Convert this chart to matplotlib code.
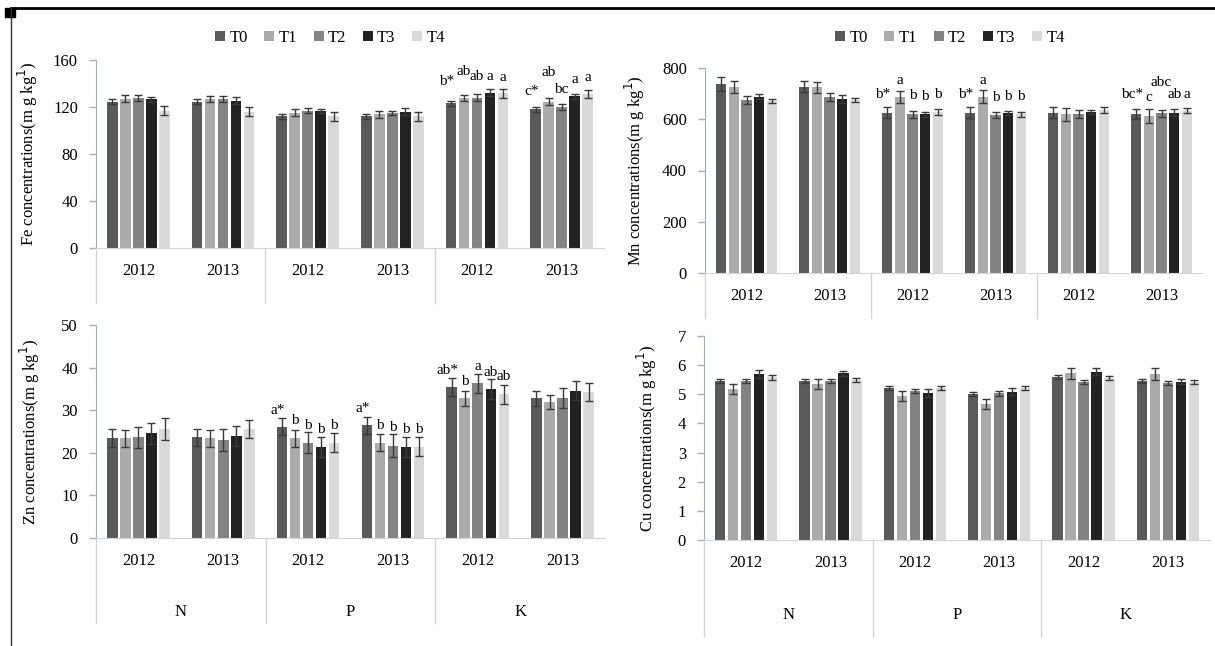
import numpy as np
import matplotlib.pyplot as plt
from matplotlib.lines import Line2D

plt.rcParams['font.family'] = ['Liberation Serif', 'DejaVu Serif']

treatments = ['T0', 'T1', 'T2', 'T3', 'T4']
years = ['2012', '2013', '2012', '2013', '2012', '2013']
elements = ['N', 'P', 'K']
colors = ['#5a5a5a', '#ababab', '#838383', '#222222', '#d9d9d9']

# mean values, one list per treatment, groups = N2012, N2013, P2012, P2013, K2012, K2013
fe_mean = [[124.5, 124.5, 112, 112, 123, 118],
           [127, 126.5, 115, 114, 128, 124.5],
           [128, 126.5, 117, 115, 128, 120],
           [126.5, 125.5, 116.5, 116, 132, 129],
           [117, 116, 112, 112, 131.5, 131]]
fe_err = [[2, 2, 2, 2, 2, 2],
          [3, 2.5, 3, 3, 2.5, 3],
          [2.5, 2.5, 2, 2, 3, 2.5],
          [2, 3, 2, 3, 3, 2],
          [3.5, 4, 4, 3.5, 4, 3.5]]

mn_mean = [[737, 727, 626, 626, 626, 620],
           [727, 725, 688, 688, 619, 613],
           [675, 688, 619, 617, 619, 623],
           [688, 678, 619, 626, 629, 626],
           [671, 675, 629, 619, 636, 633]]
mn_err = [[26, 21, 22, 22, 22, 20],
          [23, 21, 23, 26, 26, 26],
          [14, 16, 14, 13, 16, 13],
          [10, 16, 11, 8, 9, 13],
          [9, 9, 11, 10, 10, 10]]

zn_mean = [[23.4, 23.6, 26.1, 26.5, 35.4, 32.8],
           [23.4, 23.4, 23.4, 22.4, 32.8, 31.9],
           [23.6, 23.0, 22.4, 21.7, 36.3, 32.8],
           [24.6, 23.9, 21.4, 21.4, 35.0, 34.6],
           [25.6, 25.6, 22.4, 21.4, 33.7, 34.3]]
zn_err = [[2.1, 2.1, 2.0, 2.0, 2.1, 1.7],
          [2.0, 2.0, 2.0, 2.0, 1.8, 1.7],
          [2.5, 2.5, 2.5, 2.6, 2.3, 2.3],
          [2.5, 2.3, 2.3, 2.3, 2.3, 2.3],
          [2.5, 2.2, 2.2, 2.2, 2.3, 2.2]]

cu_mean = [[5.46, 5.46, 5.20, 5.01, 5.60, 5.46],
           [5.17, 5.34, 4.94, 4.67, 5.72, 5.69],
           [5.46, 5.46, 5.12, 5.03, 5.43, 5.38],
           [5.69, 5.72, 5.03, 5.09, 5.78, 5.43],
           [5.58, 5.49, 5.23, 5.23, 5.55, 5.41]]
cu_err = [[0.07, 0.07, 0.07, 0.07, 0.07, 0.07],
          [0.17, 0.17, 0.18, 0.17, 0.18, 0.20],
          [0.07, 0.08, 0.07, 0.08, 0.06, 0.07],
          [0.14, 0.09, 0.14, 0.11, 0.11, 0.08],
          [0.09, 0.07, 0.07, 0.07, 0.07, 0.07]]

# significance letters: (group, treatment, text, y)
fe_letters = [(4, 0, 'b*', 141.5), (4, 1, 'ab', 150), (4, 2, 'ab', 146), (4, 3, 'a', 146), (4, 4, 'a', 145),
              (5, 0, 'c*', 133), (5, 1, 'ab', 149), (5, 2, 'bc', 135), (5, 3, 'a', 143), (5, 4, 'a', 145)]
mn_letters = [(2, 0, 'b*', 695), (2, 1, 'a', 750), (2, 2, 'b', 692), (2, 3, 'b', 688), (2, 4, 'b', 697),
              (3, 0, 'b*', 695), (3, 1, 'a', 750), (3, 2, 'b', 684), (3, 3, 'b', 688), (3, 4, 'b', 688),
              (5, 0, 'bc*', 697), (5, 1, 'c', 684), (5, 2, 'abc', 743), (5, 3, 'ab', 697), (5, 4, 'a', 697)]
zn_letters = [(2, 0, 'a*', 30.0), (2, 1, 'b', 27.5), (2, 2, 'b', 26.3), (2, 3, 'b', 25.5), (2, 4, 'b', 26.4),
              (3, 0, 'a*', 30.3), (3, 1, 'b', 26.4), (3, 2, 'b', 26.0), (3, 3, 'b', 25.5), (3, 4, 'b', 25.5),
              (4, 0, 'ab*', 39.4), (4, 1, 'b', 36.7), (4, 2, 'a', 40.2), (4, 3, 'ab', 38.8), (4, 4, 'ab', 38.0)]

W, H = 1215, 646
fig = plt.figure(figsize=(W / 100, H / 100), dpi=100)

bar_w = 0.124
step = 0.154


def px_axes(left, right, top, bottom):
    return fig.add_axes([left / W, 1 - bottom / H, (right - left) / W, (bottom - top) / H])


def panel(ax, means, errs, ymax, ystep, ylabel, letters, sep_depth, show_elem, label_x, elem_y):
    x = np.arange(len(years))
    handles = []
    for i in range(len(treatments)):
        off = (i - 2) * step
        b = ax.bar(x + off, means[i], bar_w, color=colors[i], label=treatments[i], zorder=2)
        ax.errorbar(x + off, means[i], yerr=errs[i], fmt='none', ecolor='#3a3a3a',
                    elinewidth=1, capsize=3, capthick=1, zorder=3)
        handles.append(b)
    for g, t, txt, y in letters:
        dx = -0.05 if '*' in txt else 0
        ax.text(g + (t - 2) * step + dx, y, txt, ha='center', va='center', fontsize=11)
    ax.set_xlim(-0.5, 5.5)
    ax.set_ylim(0, ymax)
    ax.set_yticks(np.arange(0, ymax + 1e-9, ystep))
    ax.set_xticks(x)
    ax.set_xticklabels(years, fontsize=12)
    ax.tick_params(axis='x', length=0, pad=11)
    ax.tick_params(axis='y', labelsize=12, length=5, width=1, color='#9fb1c0', pad=8)
    for s in ['top', 'right']:
        ax.spines[s].set_visible(False)
    ax.spines['left'].set_color('#9fb1c0')
    ax.spines['bottom'].set_color('#d4d4d4')
    ax.set_ylabel(ylabel, fontsize=12)
    ax.yaxis.set_label_coords(label_x, 0.5)
    tr = ax.get_xaxis_transform()
    for xs in [-0.5, 1.5, 3.5]:
        ax.plot([xs, xs], [0, -sep_depth], transform=tr, color='#d4d4d4', lw=1, clip_on=False)
    if show_elem:
        for k, e in enumerate(elements):
            ax.text(2 * k + 0.5, elem_y, e, transform=tr, ha='center', va='center', fontsize=12)
    return handles


ax_fe = px_axes(96, 604, 60, 248)
h = panel(ax_fe, fe_mean, fe_err, 160, 40, 'Fe concentrations(m g kg$^{1}$)', fe_letters,
          0.29, False, -0.11, 0)
ax_mn = px_axes(705, 1203, 68, 273)
panel(ax_mn, mn_mean, mn_err, 800, 200, 'Mn concentrations(m g kg$^{1}$)', mn_letters,
      0.22, False, -0.116, 0)
ax_zn = px_axes(96, 605, 325, 538)
panel(ax_zn, zn_mean, zn_err, 50, 10, 'Zn concentrations(m g kg$^{1}$)', zn_letters,
      0.40, True, -0.106, -0.347)
ax_cu = px_axes(704, 1210, 336, 540)
panel(ax_cu, cu_mean, cu_err, 7, 1, 'Cu concentrations(m g kg$^{1}$)', [],
      0.47, True, -0.089, -0.368)

for cx in [330, 950]:
    fig.legend(handles=h, labels=treatments, loc='center', bbox_to_anchor=(cx / W, 1 - 38 / H),
               ncol=5, frameon=False, fontsize=12, handlelength=0.6, handleheight=0.6,
               handletextpad=0.25, columnspacing=1.0)

# outer frame lines
fig.add_artist(Line2D([11 / W, 1], [1 - 8 / H, 1 - 8 / H], color='black', lw=2))
fig.add_artist(Line2D([11 / W, 11 / W], [1 - 8 / H, 0], color='#333333', lw=1))
fig.add_artist(plt.Rectangle((5 / W, 1 - 17 / H), 10 / W, 9 / H, color='black'))

plt.savefig('out.png', dpi=100)
